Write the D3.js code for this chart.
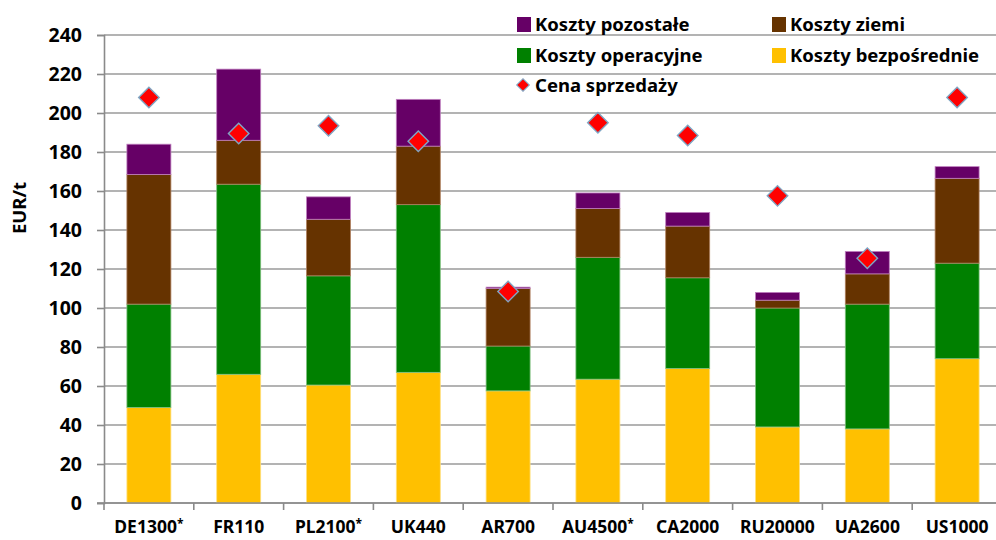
<!DOCTYPE html>
<html><head><meta charset="utf-8">
<script src="https://cdn.jsdelivr.net/npm/d3@7"></script>
<style>
html,body{margin:0;padding:0;background:#fff;}
svg{display:block;}
text{font-family:"Noto Sans","DejaVu Sans",sans-serif;font-weight:700;fill:#000;}
</style></head>
<body>
<svg id="chart" width="996" height="540"></svg>
<script>
const categories = ["DE1300*","FR110","PL2100*","UK440","AR700","AU4500*","CA2000","RU20000","UA2600","US1000"];
const kosztyBezposrednie = [49, 66, 60.5, 67, 57.5, 63.5, 69, 39, 38, 74];
const kosztyOperacyjne   = [53, 97.5, 56, 86, 23, 62.5, 46.5, 61, 64, 49];
const kosztyZiemi        = [66.5, 22.5, 29, 30, 29.5, 25, 26.5, 4, 15.5, 43.5];
const kosztyPozostale    = [15.5, 36.5, 11.5, 24, 0.7, 8, 7, 4, 11.5, 6];
const cenaSprzedazy      = [208, 189.5, 193.5, 185.5, 108.5, 195, 188.5, 157.5, 125.5, 208];
const yTicks = [0,20,40,60,80,100,120,140,160,180,200,220,240];

const series = [
  {name:"Koszty bezpośrednie", values:kosztyBezposrednie, color:"#FFC000", stroke:"#FFE080"},
  {name:"Koszty operacyjne", values:kosztyOperacyjne, color:"#008000", stroke:"#80C080"},
  {name:"Koszty ziemi", values:kosztyZiemi, color:"#663300", stroke:"#B08060"},
  {name:"Koszty pozostałe", values:kosztyPozostale, color:"#660066", stroke:"#C080C0"}
];

const svg = d3.select("#chart");
const x = d3.scaleBand().domain(categories).range([104, 1002]).padding(0);
const y = d3.scaleLinear().domain([0, 240]).range([503, 35]);
const barW = 44;

// gridlines
svg.append("g").selectAll("line").data(yTicks).join("line")
  .attr("x1", 104).attr("x2", 996)
  .attr("y1", d => y(d)).attr("y2", d => y(d))
  .attr("stroke", "#9a9a9a").attr("stroke-width", 1.6);

// y axis
const yAxis = svg.append("g").attr("transform", "translate(104,0)")
  .call(d3.axisLeft(y).tickValues(yTicks).tickSize(7).tickPadding(15));
yAxis.select(".domain").attr("stroke", "#8a8a8a").attr("stroke-width", 1.6);
yAxis.selectAll(".tick line").attr("stroke", "#8a8a8a").attr("stroke-width", 1.6);
yAxis.selectAll(".tick text").attr("font-size", 19.5).attr("font-family", null).attr("fill", "#000");

// y label
svg.append("text").attr("transform", "translate(26,208) rotate(-90)")
  .attr("text-anchor", "middle").attr("font-size", 18.5).text("EUR/t");

// stacked data
const stackData = categories.map((c, i) => {
  const o = {cat: c};
  series.forEach(s => o[s.name] = s.values[i]);
  return o;
});
const stack = d3.stack().keys(series.map(s => s.name));
const layers = stack(stackData);

svg.append("g").selectAll("g").data(layers).join("g")
  .attr("fill", (d, i) => series[i].color)
  .attr("stroke", (d, i) => series[i].stroke)
  .attr("stroke-width", 0.8)
  .selectAll("rect").data(d => d).join("rect")
  .attr("x", d => x(d.data.cat) + x.bandwidth() / 2 - barW / 2)
  .attr("width", barW)
  .attr("y", d => y(d[1]))
  .attr("height", d => y(d[0]) - y(d[1]));

// x axis
const xAxisG = svg.append("g").attr("transform", "translate(0,503)");
xAxisG.append("line").attr("x1", 97).attr("x2", 996).attr("y1", 0).attr("y2", 0)
  .attr("stroke", "#8a8a8a").attr("stroke-width", 1.6);
const bounds = categories.map(c => x(c)).concat([x.range()[1]]);
xAxisG.selectAll("line.tk").data(bounds).join("line").attr("class", "tk")
  .attr("x1", d => d).attr("x2", d => d).attr("y1", 0).attr("y2", 7)
  .attr("stroke", "#8a8a8a").attr("stroke-width", 1.6);
const xl = xAxisG.selectAll("text.cl").data(categories).join("text").attr("class", "cl")
  .attr("x", d => x(d) + x.bandwidth() / 2).attr("y", 30)
  .attr("text-anchor", "middle").attr("font-size", 17.5);
xl.each(function(d) {
  const t = d3.select(this);
  if (d.endsWith("*")) {
    t.append("tspan").text(d.slice(0, -1));
    t.append("tspan").attr("font-size", 12).attr("dy", -5).text("*");
  } else t.text(d);
});

// price diamonds
svg.append("g").selectAll("path").data(cenaSprzedazy).join("path")
  .attr("transform", (d, i) => `translate(${x(categories[i]) + x.bandwidth() / 2},${y(d)}) rotate(45)`)
  .attr("d", d3.symbol().type(d3.symbolSquare).size(210))
  .attr("fill", "#FF0000").attr("stroke", "#7fa6c4").attr("stroke-width", 1.4);

// legend
const legendItems = [
  {name:"Koszty pozostałe", color:"#660066", lx:517, ly:24},
  {name:"Koszty ziemi", color:"#663300", lx:772, ly:24},
  {name:"Koszty operacyjne", color:"#008000", lx:517, ly:55},
  {name:"Koszty bezpośrednie", color:"#FFC000", lx:772, ly:55}
];
const lg = svg.append("g");
legendItems.forEach(it => {
  lg.append("rect").attr("x", it.lx).attr("y", it.ly - 7).attr("width", 14).attr("height", 15).attr("fill", it.color);
  lg.append("text").attr("x", it.lx + 18).attr("y", it.ly + 6.5).attr("font-size", 18.5).text(it.name);
});
lg.append("path").attr("transform", "translate(523,85) rotate(45)")
  .attr("d", d3.symbol().type(d3.symbolSquare).size(80))
  .attr("fill", "#FF0000").attr("stroke", "#7fa6c4").attr("stroke-width", 1);
lg.append("text").attr("x", 535).attr("y", 91.5).attr("font-size", 18.5).text("Cena sprzedaży");
</script>
</body></html>
